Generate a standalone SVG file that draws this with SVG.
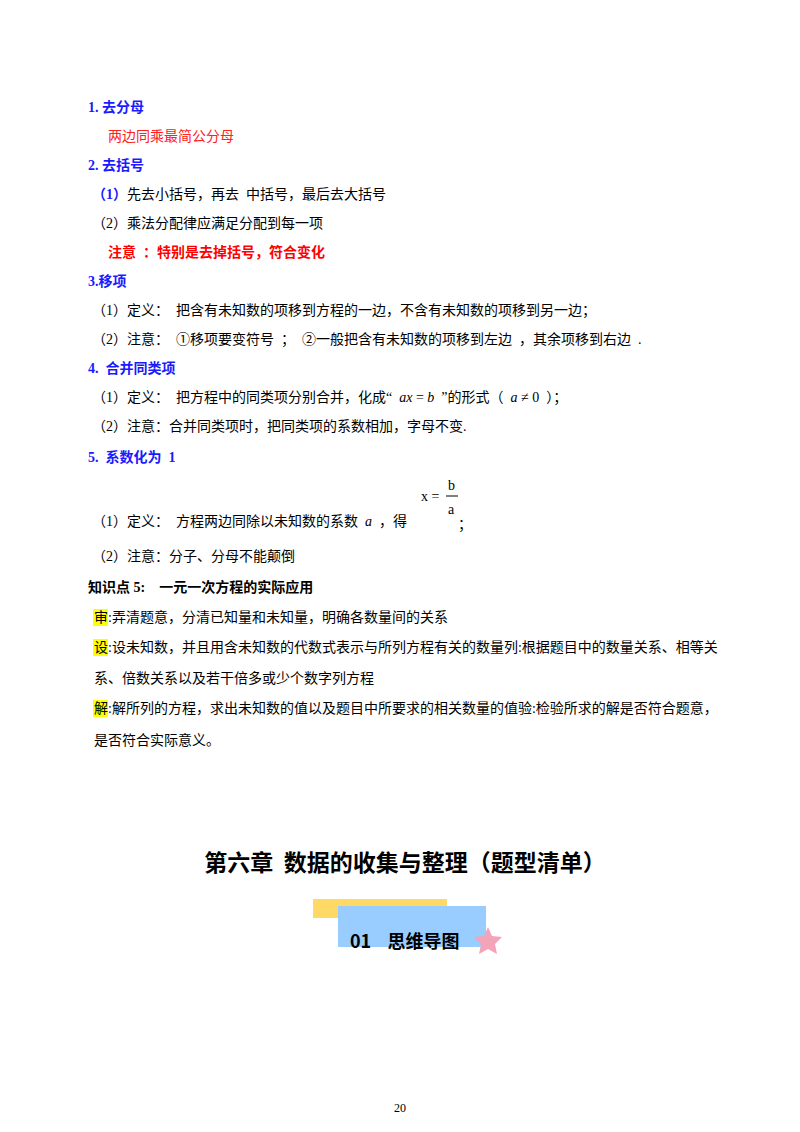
<svg xmlns="http://www.w3.org/2000/svg" width="800" height="1132" viewBox="0 0 800 1132">
<style>
text{font-family:"Liberation Serif","Noto Sans CJK SC",serif;font-size:14px;fill:#000;white-space:pre}
.h{fill:#1a1aff;font-weight:bold;font-size:14px}
.r{fill:#ff2020}
.rb{fill:#ff0000;font-weight:bold}
.b{font-weight:bold}
.i{font-style:italic}
.hl{fill:#ffff00}
.t{font-family:"Noto Sans CJK SC",sans-serif;font-size:23px;font-weight:bold}
.bn{font-family:"Noto Sans CJK SC",sans-serif;font-size:18px;font-weight:bold}
.pg{font-size:12px}
</style>
<rect width="800" height="1132" fill="#fff"/>
<text class="h" x="88" y="112">1. 去分母</text>
<text class="r" x="108" y="141">两边同乘最简公分母</text>
<text class="h" x="88" y="170">2. 去括号</text>
<text x="92" y="199"><tspan fill="#1a1aff" font-weight="bold">（1）</tspan>先去小括号，再去  中括号，最后去大括号</text>
<text x="92" y="228">（2）乘法分配律应满足分配到每一项</text>
<text class="rb" x="108" y="257">注意  ：特别是去掉括号，符合变化</text>
<text class="h" x="88" y="286">3.移项</text>
<text x="92" y="315">（1）定义：  把含有未知数的项移到方程的一边，不含有未知数的项移到另一边；</text>
<text x="92" y="344">（2）注意：  ①移项要变符号  ；  ②一般把含有未知数的项移到左边  ，其余项移到右边  .</text>
<text class="h" x="88" y="373">4.  合并同类项</text>
<text x="92" y="402">（1）定义：  把方程中的同类项分别合并，化成“  <tspan class="i">ax</tspan> = <tspan class="i">b</tspan>  ”的形式（  <tspan class="i">a</tspan> ≠ 0  ）；</text>
<text x="92" y="431">（2）注意：合并同类项时，把同类项的系数相加，字母不变.</text>
<text class="h" x="88" y="462">5.  系数化为  1</text>
<text x="421" y="501">x =</text>
<text x="448" y="490">b</text>
<line x1="446" y1="496" x2="458" y2="496" stroke="#000" stroke-width="1"/>
<text x="448" y="514">a</text>
<text x="92" y="526">（1）定义：  方程两边同除以未知数的系数  <tspan class="i">a</tspan>  ，得</text>
<text x="458" y="529">；</text>
<text x="92" y="561">（2）注意：分子、分母不能颠倒</text>
<text class="b" x="88" y="592">知识点 5:    一元一次方程的实际应用</text>
<rect class="hl" x="93" y="609" width="15" height="17"/>
<text x="94" y="622">审:弄清题意，分清已知量和未知量，明确各数量间的关系</text>
<rect class="hl" x="93" y="639" width="15" height="17"/>
<text x="94" y="652">设:设未知数，并且用含未知数的代数式表示与所列方程有关的数量列:根据题目中的数量关系、相等关</text>
<text x="94" y="683">系、倍数关系以及若干倍多或少个数字列方程</text>
<rect class="hl" x="93" y="700" width="15" height="17"/>
<text x="94" y="713">解:解所列的方程，求出未知数的值以及题目中所要求的相关数量的值验:检验所求的解是否符合题意，</text>
<text x="94" y="745">是否符合实际意义。</text>
<text class="t" x="405" y="871" text-anchor="middle">第六章  数据的收集与整理（题型清单）</text>
<g id="banner">
<rect x="313" y="899" width="134" height="19" fill="#ffd966"/>
<rect x="338" y="906" width="148" height="41" fill="#99ccff"/>
<text class="bn" x="350" y="948">01    思维导图</text>
<polygon points="488,927 492,936 502,937 495,944 497,954 488,949 479,954 481,944 474,937 484,936" fill="#f4a4b8"/>
</g>
<text class="pg" x="400" y="1112" text-anchor="middle">20</text>
</svg>
